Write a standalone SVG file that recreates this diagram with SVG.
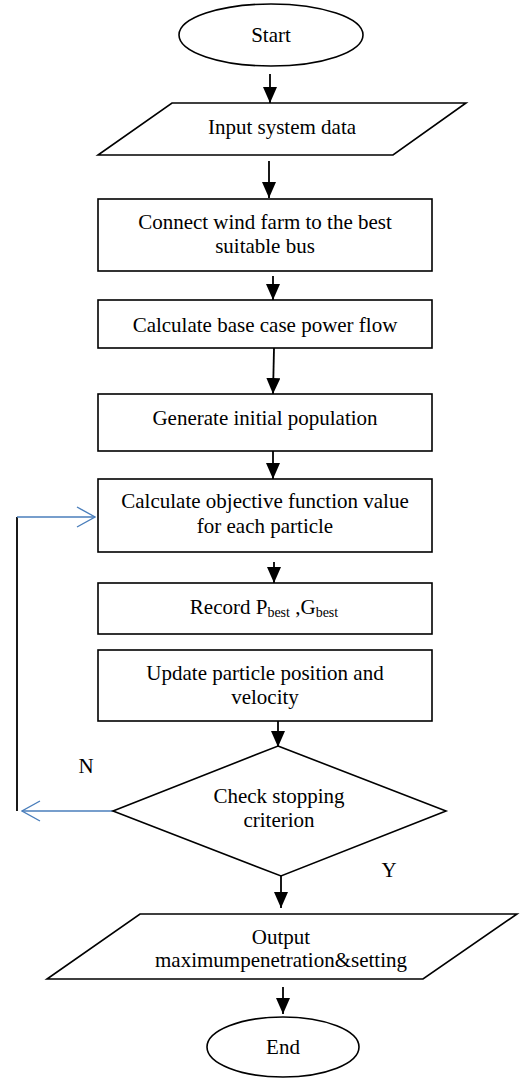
<svg xmlns="http://www.w3.org/2000/svg" width="525" height="1078" viewBox="0 0 525 1078">
<style>
.s{fill:#fff;stroke:#000;stroke-width:1.6}
.t{font-family:"Liberation Serif","Times New Roman",serif;font-size:21px;fill:#000;text-anchor:middle}
.c{stroke:#000;stroke-width:1.8;fill:none}
.b{stroke:#4a7ebb;stroke-width:1.4;fill:none}
.sub{font-size:14px}
</style>
<defs>
<marker id="ah" viewBox="0 0 16 14" refX="16" refY="7" markerWidth="16" markerHeight="14" markerUnits="userSpaceOnUse" orient="auto">
<path d="M0,0 L16,7 L0,14 z" fill="#000"/>
</marker>
<marker id="oh" viewBox="0 0 20 22" refX="19" refY="11" markerWidth="20" markerHeight="22" markerUnits="userSpaceOnUse" orient="auto">
<path d="M1,1 L19,11 L1,21" fill="none" stroke="#4a7ebb" stroke-width="1.4"/>
</marker>
</defs>
<rect width="525" height="1078" fill="#fff"/>
<g id="connectors">
<line class="c" x1="270" y1="74" x2="270" y2="103" marker-end="url(#ah)"/>
<line class="c" x1="269" y1="161" x2="269" y2="198" marker-end="url(#ah)"/>
<line class="c" x1="273" y1="276" x2="273" y2="300" marker-end="url(#ah)"/>
<line class="c" x1="274" y1="348" x2="273" y2="394" marker-end="url(#ah)"/>
<line class="c" x1="273" y1="451" x2="273" y2="479" marker-end="url(#ah)"/>
<line class="c" x1="274" y1="562" x2="274" y2="583" marker-end="url(#ah)"/>
<line class="c" x1="278" y1="721" x2="278" y2="747" marker-end="url(#ah)"/>
<line class="c" x1="281" y1="876" x2="281" y2="908" marker-end="url(#ah)"/>
<line class="c" x1="283" y1="987" x2="283" y2="1014" marker-end="url(#ah)"/>
<line class="b" x1="113" y1="811" x2="22" y2="811" marker-end="url(#oh)"/>
<line class="c" x1="17" y1="811" x2="17" y2="517"/>
<line class="b" x1="17" y1="517" x2="95" y2="517" marker-end="url(#oh)"/>
<text class="t" x="86" y="773">N</text>
<text class="t" x="389" y="877">Y</text>
</g>
<g id="start">
<ellipse class="s" cx="271" cy="35" rx="92" ry="31"/>
<text class="t" x="271" y="42">Start</text>
</g>
<g id="input">
<polygon class="s" points="172,103 466,103 393,155 98,155"/>
<text class="t" x="282" y="134">Input system data</text>
</g>
<g id="connect">
<rect class="s" x="98" y="199" width="334" height="72"/>
<text class="t" x="265" y="229">Connect wind farm to the best</text>
<text class="t" x="265" y="253">suitable bus</text>
</g>
<g id="basecase">
<rect class="s" x="98" y="300" width="334" height="48"/>
<text class="t" x="265" y="332">Calculate base case power flow</text>
</g>
<g id="generate">
<rect class="s" x="98" y="394" width="334" height="57"/>
<text class="t" x="265" y="425">Generate initial population</text>
</g>
<g id="objective">
<rect class="s" x="98" y="479" width="334" height="73"/>
<text class="t" x="265" y="508">Calculate objective function value</text>
<text class="t" x="265" y="533">for each particle</text>
</g>
<g id="record">
<rect class="s" x="98" y="583" width="334" height="51"/>
<text class="t" x="264" y="614">Record P<tspan class="sub" dy="3">best</tspan><tspan dy="-3"> ,G</tspan><tspan class="sub" dy="3">best</tspan></text>
</g>
<g id="update">
<rect class="s" x="98" y="650" width="334" height="71"/>
<text class="t" x="265" y="680">Update particle position and</text>
<text class="t" x="265" y="704">velocity</text>
</g>
<g id="check">
<polygon class="s" points="278,746 446,811 281,876 113,811"/>
<text class="t" x="279" y="803">Check stopping</text>
<text class="t" x="279" y="827">criterion</text>
</g>
<g id="output">
<polygon class="s" points="140,914 517,914 423,979 47,979"/>
<text class="t" x="281" y="944">Output</text>
<text class="t" x="281" y="967">maximumpenetration&amp;setting</text>
</g>
<g id="end">
<ellipse class="s" cx="283" cy="1047" rx="76" ry="30"/>
<text class="t" x="283" y="1054">End</text>
</g>
</svg>
